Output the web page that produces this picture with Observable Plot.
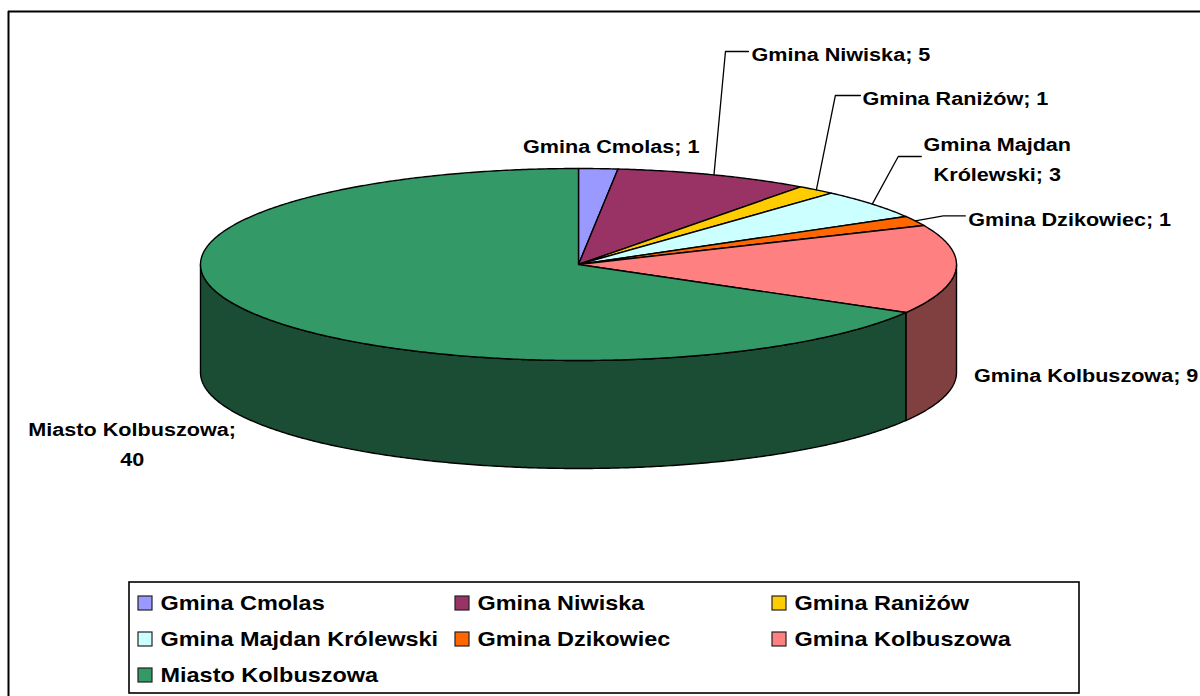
<!DOCTYPE html>
<html>
<head>
<meta charset="utf-8">
<script src="https://cdn.jsdelivr.net/npm/d3@7"></script>
<script src="https://cdn.jsdelivr.net/npm/@observablehq/plot@0.6"></script>
<style>
html, body { margin: 0; padding: 0; background: #fff; overflow: hidden; }
#chart svg { display: block; }
</style>
</head>
<body>
<div id="chart"></div>
<script>
// ---- data ----
const categories = ["Gmina Cmolas", "Gmina Niwiska", "Gmina Raniżów", "Gmina Majdan Królewski", "Gmina Dzikowiec", "Gmina Kolbuszowa", "Miasto Kolbuszowa"];
const values = [1, 5, 1, 3, 1, 9, 40];
const colors = ["#9999FF", "#993366", "#FFCC00", "#CCFFFF", "#FF6600", "#FF8080", "#339966"];

// ---- layout ----
const W = 1200, H = 696;
const pie = {cx: 578, cy: 264, rx: 378, ry: 96, depth: 108};
// label placement relative to the slice's outer edge point at mid-angle
const labelLayout = [
  {dx: 13, dy: -25, anchor: "middle"},
  {dx: 37.5, dy: -123.4, anchor: "start", gap: 3, elbow: 23},
  {dx: 46, dy: -94.4, anchor: "start", gap: 2, elbow: 25},
  {dx: 125, dy: -47.6, anchor: "middle", gap: 76, elbow: 23, breakAfter: 2},
  {dx: 53, dy: -5, anchor: "start", gap: 3, elbow: 22},
  {dx: 18, dy: 103, anchor: "start"},
  {dx: -119, dy: 128.5, anchor: "middle", breakAfter: 2}
];
const legend = {x1: 129, y1: 582, x2: 1079, y2: 693, col0: 138, colStep: 317, row0: 603, rowStep: 36, sw: 14, cols: 3};
const font = "'Liberation Sans', Arial, Helvetica, sans-serif";
const labelSize = 18.8, legendSize = 20.4, stretch = 1.15;

// ---- geometry from values ----
const total = d3.sum(values);
const TAU = Math.PI * 2;
let acc = 0;
const slices = values.map((v, i) => {
  const a0 = acc / total * TAU;
  acc += v;
  const a1 = acc / total * TAU;
  return {i, name: categories[i], value: v, color: colors[i], a0, a1, mid: (a0 + a1) / 2};
});
const pt = (a, dz = 0) => [pie.cx + pie.rx * Math.sin(a), pie.cy - pie.ry * Math.cos(a) + dz];
const arcPts = (a0, a1, dz = 0) => {
  const n = Math.max(2, Math.ceil((a1 - a0) / (Math.PI / 360)));
  return d3.range(n + 1).map(k => pt(a0 + (a1 - a0) * k / n, dz));
};
const shade = c => { const r = d3.rgb(c); return d3.rgb(r.r * 0.5, r.g * 0.5, r.b * 0.5).formatHex(); };

// side walls (front half only)
const sides = [];
slices.forEach(s => {
  const lo = Math.max(s.a0, Math.PI / 2), hi = Math.min(s.a1, Math.PI * 1.5);
  if (lo < hi) {
    const top = arcPts(lo, hi, 0);
    const bot = arcPts(lo, hi, pie.depth).reverse();
    const ring = [...top, ...bot, top[0]];
    ring.forEach(([x, y]) => sides.push({id: "side" + s.i, x, y, fill: shade(s.color)}));
  }
});
// top faces
const tops = [];
slices.forEach(s => {
  const ring = [[pie.cx, pie.cy], ...arcPts(s.a0, s.a1, 0), [pie.cx, pie.cy]];
  ring.forEach(([x, y]) => tops.push({id: "top" + s.i, x, y, fill: s.color}));
});

// labels and leader lines
const labels = [];
const leaders = [];
slices.forEach((s, i) => {
  const L = labelLayout[i];
  const [ex, ey] = pt(s.mid);
  const tx = ex + L.dx, ty = ey + L.dy;
  let text = `${s.name}; ${s.value}`;
  if (L.breakAfter) {
    const w = text.split(" ");
    text = w.slice(0, L.breakAfter).join(" ") + "\n" + w.slice(L.breakAfter).join(" ");
  }
  labels.push({x: tx, y: ty, text, anchor: L.anchor});
  if (L.elbow) {
    const endX = tx - L.gap;
    leaders.push({id: i, x: ex, y: ey});
    leaders.push({id: i, x: endX - L.elbow, y: ty});
    leaders.push({id: i, x: endX, y: ty});
  }
});

// legend items
const legendItems = categories.map((name, i) => {
  const col = i % legend.cols, row = Math.floor(i / legend.cols);
  const x = legend.col0 + col * legend.colStep, y = legend.row0 + row * legend.rowStep;
  return {name, color: colors[i], x1: x, x2: x + legend.sw, y1: y - legend.sw / 2, y2: y + legend.sw / 2, tx: x + legend.sw + 8, ty: y};
});

const chart = Plot.plot({
  width: W,
  height: H,
  margin: 0,
  x: {domain: [0, W], range: [0, W], axis: null},
  y: {domain: [0, H], range: [0, H], axis: null},
  style: {fontFamily: font, background: "#fff"},
  marks: [
    // chart frame
    Plot.ruleY([11], {x1: 8, x2: W, stroke: "#000", strokeWidth: 2}),
    Plot.ruleX([8], {y1: 11, y2: H, stroke: "#000", strokeWidth: 2}),
    // pie sides then tops
    Plot.line(sides, {x: "x", y: "y", z: "id", fill: "fill", stroke: "#000", strokeWidth: 1.4, strokeLinejoin: "round", curve: "linear"}),
    Plot.line(tops, {x: "x", y: "y", z: "id", fill: "fill", stroke: "#000", strokeWidth: 1.4, strokeLinejoin: "round", curve: "linear"}),
    // leaders
    Plot.line(leaders, {x: "x", y: "y", z: "id", stroke: "#000", strokeWidth: 1.3, curve: "linear"}),
    // data labels
    Plot.text(labels.filter(d => d.anchor === "start"), {x: "x", y: "y", text: "text", textAnchor: "start", fontSize: labelSize, fontWeight: "bold", fill: "#000", lineHeight: 1.6}),
    Plot.text(labels.filter(d => d.anchor === "middle"), {x: "x", y: "y", text: "text", textAnchor: "middle", fontSize: labelSize, fontWeight: "bold", fill: "#000", lineHeight: 1.6}),
    // legend
    Plot.rect([legend], {x1: "x1", x2: "x2", y1: "y1", y2: "y2", fill: "#fff", stroke: "#000", strokeWidth: 1.6}),
    Plot.rect(legendItems, {x1: "x1", x2: "x2", y1: "y1", y2: "y2", fill: "color", stroke: "#222", strokeWidth: 1.2}),
    Plot.text(legendItems, {x: "tx", y: "ty", text: "name", textAnchor: "start", fontSize: legendSize, fontWeight: "bold", fill: "#000"})
  ]
});
document.getElementById("chart").appendChild(chart);

// widen glyphs horizontally like the reference rendering
d3.select(chart).selectAll("text").each(function () {
  const tsp = this.querySelectorAll("tspan");
  const els = tsp.length ? Array.from(tsp) : [this];
  els.forEach(el => {
    const w = el.getComputedTextLength();
    if (w > 0) {
      el.setAttribute("textLength", (w * stretch).toFixed(1));
      el.setAttribute("lengthAdjust", "spacingAndGlyphs");
    }
  });
});
</script>
</body>
</html>
